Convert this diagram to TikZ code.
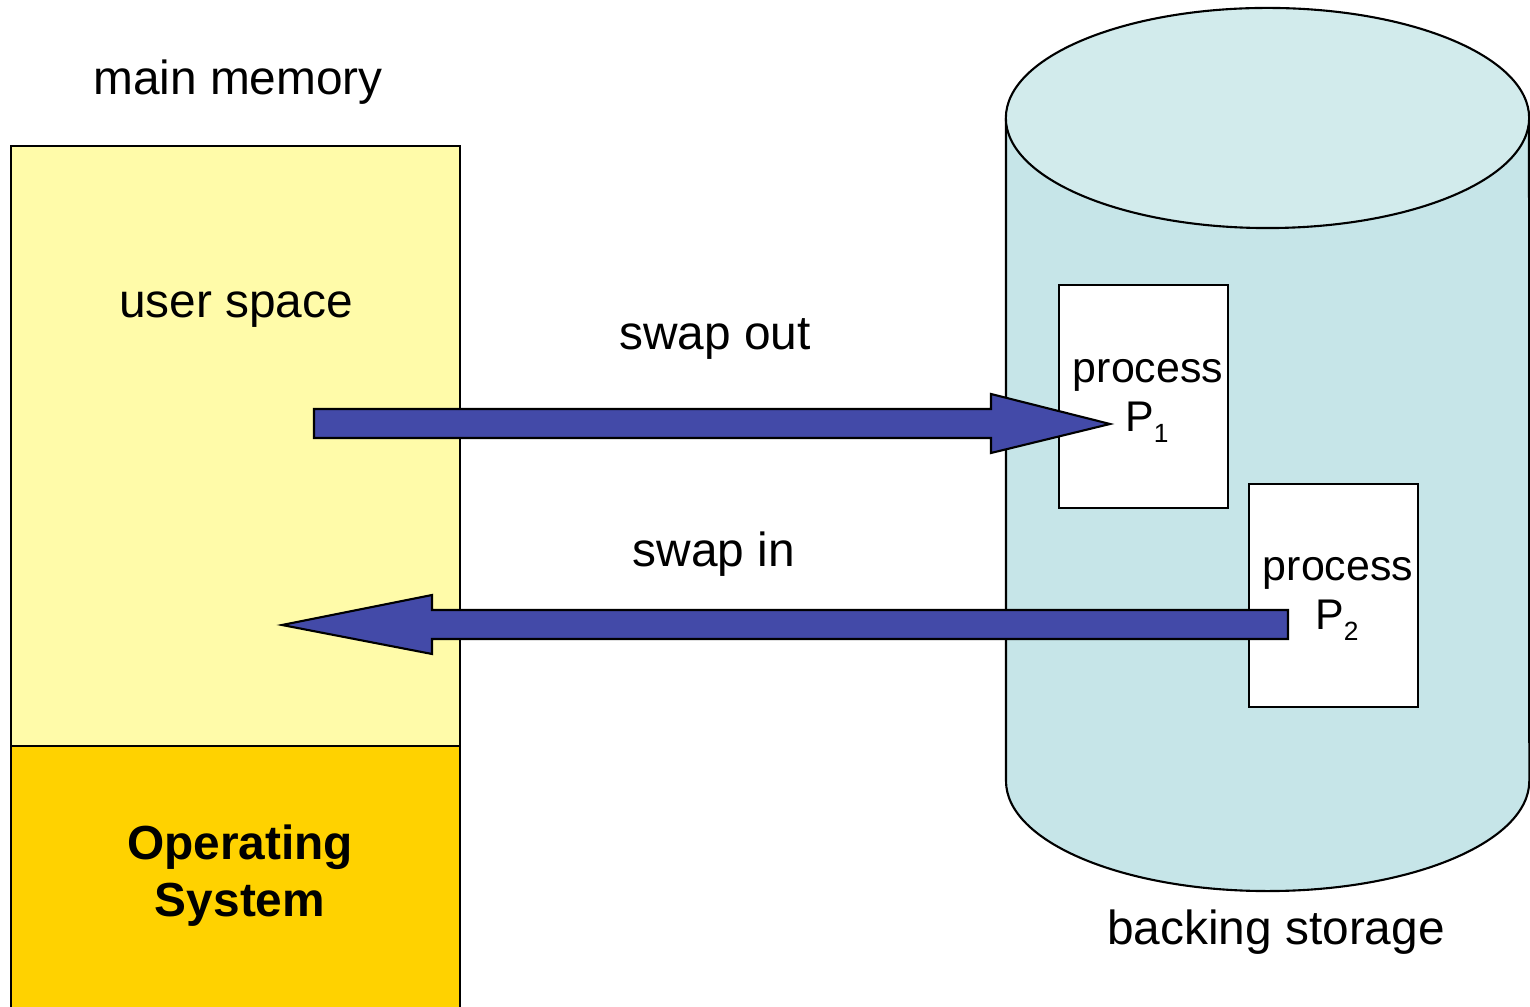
\documentclass[tikz,border=0pt]{standalone}
\usepackage{fontspec}
\setmainfont{Liberation Sans}
\newcommand{\subdigit}[1]{\raisebox{-3.1pt}{\fontsize{7.5}{7.5}\selectfont #1}}
\begin{document}
\begin{tikzpicture}[x=0.01cm,y=-0.01cm,
  lbl/.style={anchor=base,inner sep=0pt,font=\fontsize{13.6}{16.2}\selectfont},
  boxlbl/.style={anchor=base,inner sep=0pt,font=\fontsize{12.2}{14}\selectfont},
  boldlbl/.style={lbl,font=\fontsize{13.6}{16.2}\selectfont\bfseries,align=center},
  outline/.style={draw=black,line width=0.6pt},
  blockarrow/.style={outline,fill=arrowblue,line join=miter},
  procbox/.style={outline,fill=white}]
\definecolor{userfill}{HTML}{FFFBA9}
\definecolor{osfill}{HTML}{FFD200}
\definecolor{cylbody}{HTML}{C6E5E8}
\definecolor{cyltop}{HTML}{D2EBEC}
\definecolor{arrowblue}{HTML}{434AA8}
\useasboundingbox (0,0) rectangle (1530,1007);
% main memory
\path[outline,fill=userfill] (11,146) rectangle (460,746);
\path[outline,fill=osfill] (11,746) rectangle (460,1015);
\node[lbl] (mm) at (238,95) {main memory};
\node[lbl] (us) at (236,318) {user space};
\node[boldlbl,anchor=north] (os) at (240,824) {Operating\\System};
% cylinder
\fill[cylbody] (1006,118) -- (1006,781) arc[start angle=180,end angle=360,x radius=2.615cm,y radius=1.1cm] -- (1529,118) -- cycle;
\draw[outline] (1006,118) -- (1006,781) arc[start angle=180,end angle=360,x radius=2.615cm,y radius=1.1cm] -- (1529,118);
\draw[outline,fill=cyltop] (1267.5,118) ellipse [x radius=2.615cm,y radius=1.1cm];
\node[lbl] (bs) at (1276,945) {backing storage};
% process boxes
\path[procbox] (1059,285) rectangle (1228,508);
\path[procbox] (1249,484) rectangle (1418,707);
% swap out arrow
\path[blockarrow] (314,409) -- (991,409) -- (991,394) -- (1110,424) -- (991,453) -- (991,438) -- (314,438) -- cycle;
% swap in arrow
\path[blockarrow] (1288,610) -- (432,610) -- (432,595) -- (282,625) -- (432,654) -- (432,639) -- (1288,639) -- cycle;
\node[lbl] (so) at (715,350) {swap out};
\node[lbl] (si) at (714,567) {swap in};
\node[boxlbl] (p1a) at (1148,383) {process};
\node[boxlbl] (p1b) at (1147,432) {P\subdigit{1}};
\node[boxlbl] (p2a) at (1338,581) {process};
\node[boxlbl] (p2b) at (1337,630) {P\subdigit{2}};
\end{tikzpicture}
\end{document}
